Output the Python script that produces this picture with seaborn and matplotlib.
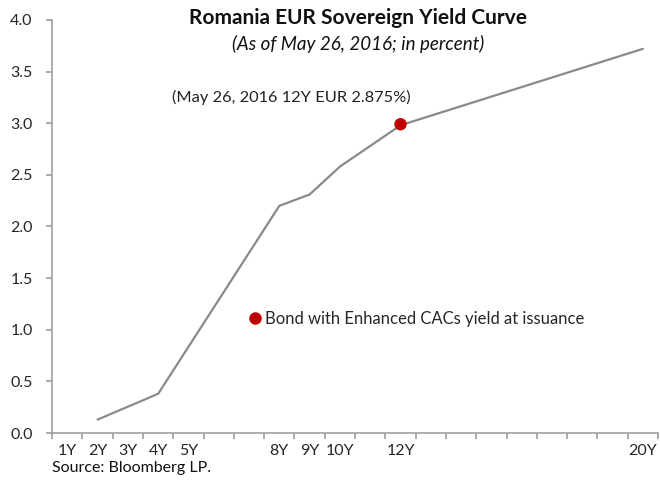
import numpy as np
import pandas as pd
import matplotlib
matplotlib.use("Agg")
import matplotlib.pyplot as plt
import seaborn as sns
from matplotlib.lines import Line2D

# Yield curve vertices (maturity in years, yield in percent)
maturities = [2, 4, 8, 9, 10, 12, 20]
yields = [0.13, 0.38, 2.20, 2.31, 2.58, 2.98, 3.72]

# New bond with enhanced CACs
bond_maturity = [12]
bond_yield = [2.99]

tick_years = [1, 2, 3, 4, 5, 8, 9, 10, 12, 20]
tick_labels = ["1Y", "2Y", "3Y", "4Y", "5Y", "8Y", "9Y", "10Y", "12Y", "20Y"]

sns.set_theme(style="white")
plt.rcParams["font.family"] = ["Lato", "DejaVu Sans"]

fig = plt.figure(figsize=(6.6, 4.86), dpi=100)
ax = fig.add_axes([0.079, 0.109, 0.918, 0.850])

df = pd.DataFrame({"maturity": maturities, "yield": yields})
sns.lineplot(data=df, x="maturity", y="yield", ax=ax, color="#8a8a8a", linewidth=1.6)
sns.scatterplot(x=bond_maturity, y=bond_yield, ax=ax, color="#c00000", s=80,
                edgecolor="none", zorder=5)

ax.set_xlim(0.5, 20.5)
ax.set_ylim(0, 4.0)
ax.set_yticks(np.arange(0, 4.01, 0.5))
ax.set_yticklabels([f"{v:.1f}" for v in np.arange(0, 4.01, 0.5)], fontsize=11.5)

# tick marks between categories, labels only for selected maturities
ax.set_xticks(np.arange(0.5, 21, 1.0))
ax.set_xticklabels([])
ax.set_xticks(tick_years, minor=True)
ax.set_xticklabels(tick_labels, minor=True, fontsize=11.5)
ax.tick_params(axis="x", which="major", length=4, color="#a0a0a0", bottom=True)
ax.tick_params(axis="x", which="minor", length=0, pad=8)
ax.tick_params(axis="y", length=4, color="#a0a0a0", left=True, pad=10)
ax.set_xlabel("")
ax.set_ylabel("")

for side in ["top", "right"]:
    ax.spines[side].set_visible(False)
for side in ["left", "bottom"]:
    ax.spines[side].set_color("#a0a0a0")
    ax.spines[side].set_linewidth(1.2)

ax.annotate("(May 26, 2016 12Y EUR 2.875%)", xy=(8.4, 3.25), ha="center",
            va="center", fontsize=11.8, color="#222222")

handle = Line2D([], [], marker="o", color="none", markerfacecolor="#c00000",
                markeredgecolor="none", markersize=9)
ax.legend([handle], ["Bond with Enhanced CACs yield at issuance"],
          loc="center left", bbox_to_anchor=(0.31, 0.277), frameon=False,
          fontsize=12, handletextpad=0.1, borderaxespad=0, handlelength=1.0)

fig.text(0.543, 0.963, "Romania EUR Sovereign Yield Curve", ha="center",
         va="center", fontsize=15, fontweight="bold", color="#111111")
fig.text(0.543, 0.909, "(As of May 26, 2016; in percent)", ha="center",
         va="center", fontsize=13.5, style="italic", color="#111111")
fig.text(0.079, 0.037, "Source: Bloomberg LP.", ha="left", va="center",
         fontsize=11.5, color="#111111")

fig.savefig("out.png", dpi=100)
